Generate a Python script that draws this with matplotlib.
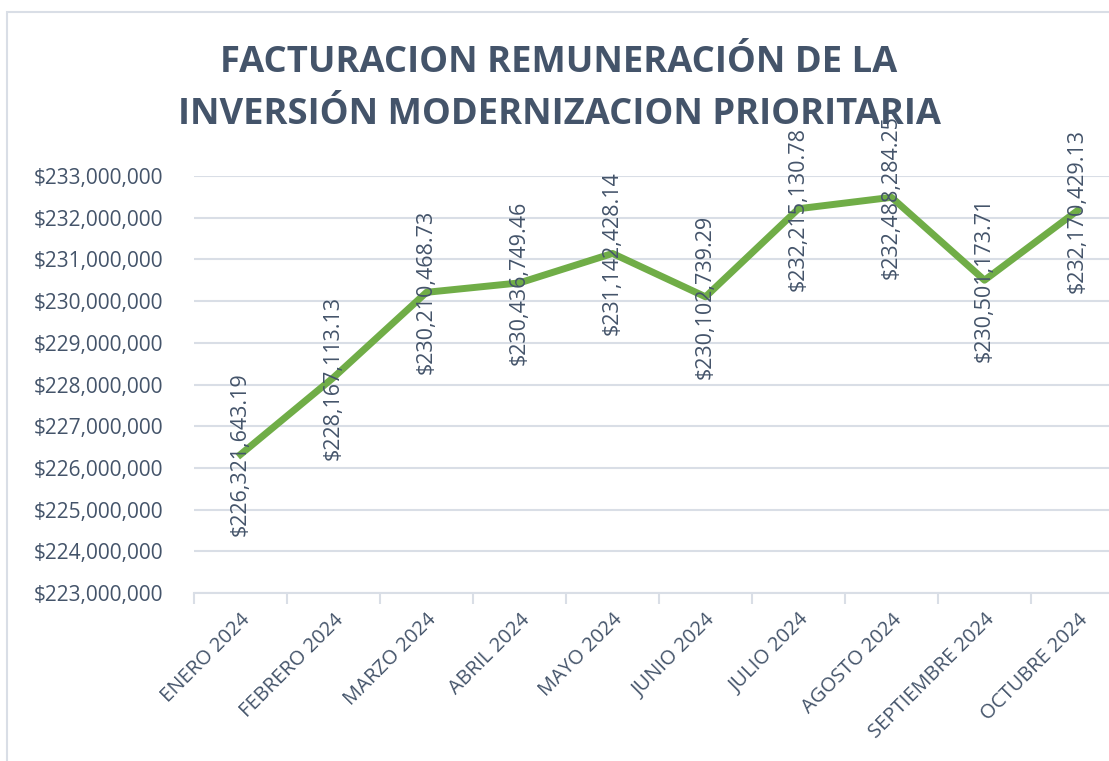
import matplotlib.pyplot as plt
from matplotlib.ticker import FuncFormatter, FixedLocator, MultipleLocator
from matplotlib.patches import Rectangle

# Data
meses = ['ENERO 2024', 'FEBRERO 2024', 'MARZO 2024', 'ABRIL 2024', 'MAYO 2024',
         'JUNIO 2024', 'JULIO 2024', 'AGOSTO 2024', 'SEPTIEMBRE 2024', 'OCTUBRE 2024']
facturacion = [226321643.19, 228167113.13, 230210468.73, 230436749.46, 231142428.14,
               230102739.29, 232215130.78, 232488284.25, 230501173.71, 232170429.13]

text_color = '#44546A'
grid_color = '#D9DEE6'
line_color = '#70AD47'

plt.rcParams['font.family'] = ['Open Sans', 'DejaVu Sans']

fig = plt.figure(figsize=(11.09, 7.61), dpi=100)

# chart border
fig.patches.append(Rectangle((7 / 1109, -0.2), 1.2, 1.2 - 12 / 761, transform=fig.transFigure,
                             fill=False, edgecolor=grid_color, linewidth=1.5))

ax = fig.add_axes([194 / 1109, 1 - 593 / 761, 930 / 1109, 417 / 761])

x = list(range(len(meses)))
ax.plot(x, facturacion, color=line_color, linewidth=5, solid_joinstyle='round', zorder=3)

for xi, v in zip(x, facturacion):
    ax.text(xi, v, f'${v:,.2f}', rotation=90, ha='center', va='center',
            fontsize=15.5, color=text_color, zorder=4)

ax.set_xlim(-0.5, len(meses) - 0.5)
ax.set_ylim(223000000, 233000000)
ax.yaxis.set_major_locator(MultipleLocator(1000000))
ax.yaxis.set_major_formatter(FuncFormatter(lambda v, p: f'${v:,.0f}'))
ax.grid(axis='y', color=grid_color, linewidth=1.5)
ax.set_axisbelow(True)

ax.set_xticks(x)
ax.set_xticklabels(meses, rotation=45, ha='right', rotation_mode='anchor')
ax.xaxis.set_minor_locator(FixedLocator([i - 0.5 for i in range(len(meses) + 1)]))
ax.tick_params(axis='x', which='major', length=0, pad=12, labelsize=14.5, labelcolor=text_color)
ax.tick_params(axis='x', which='minor', length=8, width=1.5, color=grid_color)
ax.tick_params(axis='y', length=0, pad=22, labelsize=15, labelcolor=text_color)

for s in ['top', 'right', 'left']:
    ax.spines[s].set_visible(False)
ax.spines['bottom'].set_color(grid_color)
ax.spines['bottom'].set_linewidth(1.5)

fig.text(559 / 1109, 1 - 89 / 761,
         'FACTURACION REMUNERACIÓN DE LA\nINVERSIÓN MODERNIZACION PRIORITARIA',
         ha='center', va='center', fontsize=26.2, fontweight='bold', color=text_color,
         linespacing=1.58)

fig.savefig('out.png', dpi=100)
